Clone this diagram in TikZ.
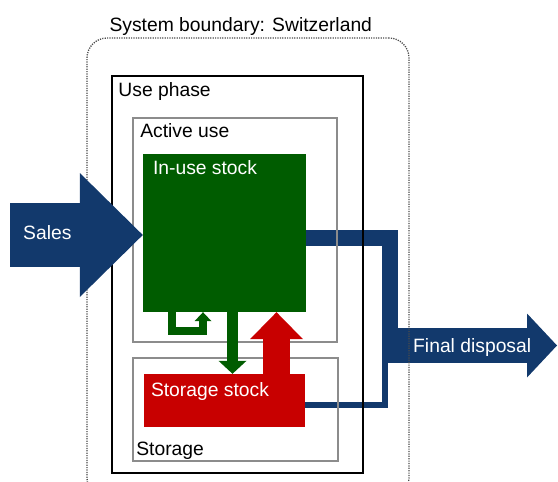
\documentclass[tikz,border=0pt]{standalone}
\usepackage{fontspec}
\setmainfont{Liberation Sans}
\usetikzlibrary{arrows.meta}
\definecolor{flowblue}{RGB}{18,57,108}
\definecolor{stockgreen}{RGB}{0,92,0}
\definecolor{stockred}{RGB}{200,0,0}
\begin{document}
\begin{tikzpicture}[x=1pt, y=-1pt, every node/.style={font=\fontsize{19.3}{22}\selectfont, inner sep=0pt},
  bound/.style={draw=black!70, dash pattern=on 1.2pt off 1.2pt, line width=1.3pt, rounded corners=20pt},
  phase/.style={draw=black, line width=1.5pt},
  part/.style={draw=black!45, line width=1.8pt},
  stock/.style={draw=none},
  flow/.style={draw=flowblue},
  lbl/.style={anchor=base west}]
\useasboundingbox (0,0) rectangle (558,482);
% flows leaving the use phase
\coordinate (fdin) at (382,345.5);
\coordinate (fdout) at (557,345.5);
\coordinate (salesin) at (10,235);
\node[stock, minimum width=163pt, minimum height=158pt] (inuse) at (224.5,233) {};
\node[stock, minimum width=161pt, minimum height=53pt] (storstock) at (224.5,400.5) {};
\draw[flow, line width=35pt, -{Triangle[length=30pt,width=64pt,line width=0pt]}] (fdin) -- (fdout);
\draw[flow, line width=16pt] ([yshift=-4.5pt]inuse.east) -| ([xshift=8pt]fdin);
\draw[flow, line width=6pt] ([yshift=-4.5pt]storstock.east) -| ([xshift=3pt]fdin);
% boxes
\node[bound, minimum width=322pt, minimum height=460pt] (sys) at (248,268) {};
\node[phase, minimum width=251pt, minimum height=397pt] (usephase) at (237.5,274.5) {};
\node[part, minimum width=204pt, minimum height=224pt] (active) at (235,230) {};
\node[part, minimum width=205pt, minimum height=103pt] (storage) at (235.5,409.5) {};
\node[stock, fill=stockgreen, minimum width=163pt, minimum height=158pt] at (inuse) {};
\node[stock, fill=stockred, minimum width=161pt, minimum height=53pt] at (storstock) {};
% sales and stock exchange
\draw[flow, line width=64pt, -{Triangle[length=63pt,width=124pt,line width=0pt]}] (salesin) -- (salesin -| inuse.west);
\draw[stockgreen, line width=8pt, -{Triangle[length=9pt,width=17pt,line width=0pt]}] ([xshift=-52.5pt]inuse.south) -- ++(0,19) -| ([xshift=-21.5pt]inuse.south);
\draw[stockgreen, line width=11pt, -{Triangle[length=13pt,width=28pt,line width=0pt]}] ([xshift=8pt]inuse.south) -- ([xshift=8pt]storstock.north);
\draw[stockred, line width=27pt, -{Triangle[length=27pt,width=53pt,line width=0pt]}] ([xshift=52pt]storstock.north) -- ([xshift=52pt]inuse.south);
% labels
\node[lbl] (syslbl) at ([xshift=23pt,yshift=6pt]sys.north west) {System boundary: Switzerland};
\node[lbl] (uselbl) at ([xshift=7pt,yshift=-21pt]usephase.north west) {Use phase};
\node[lbl] (activelbl) at ([xshift=8pt,yshift=-20pt]active.north west) {Active use};
\node[lbl, white] (inuselbl) at ([xshift=10pt,yshift=-21pt]inuse.north west) {In-use stock};
\node[lbl, white] (storstocklbl) at ([xshift=7pt,yshift=-23pt]storstock.north west) {Storage stock};
\node[lbl] (storagelbl) at ([xshift=4pt,yshift=6pt]storage.south west) {Storage};
\node[lbl, white] (saleslbl) at ([xshift=13pt,yshift=-4pt]salesin) {Sales};
\node[lbl, white] (fdlbl) at ([xshift=31pt,yshift=-6.5pt]fdin) {Final disposal};
\end{tikzpicture}
\end{document}
